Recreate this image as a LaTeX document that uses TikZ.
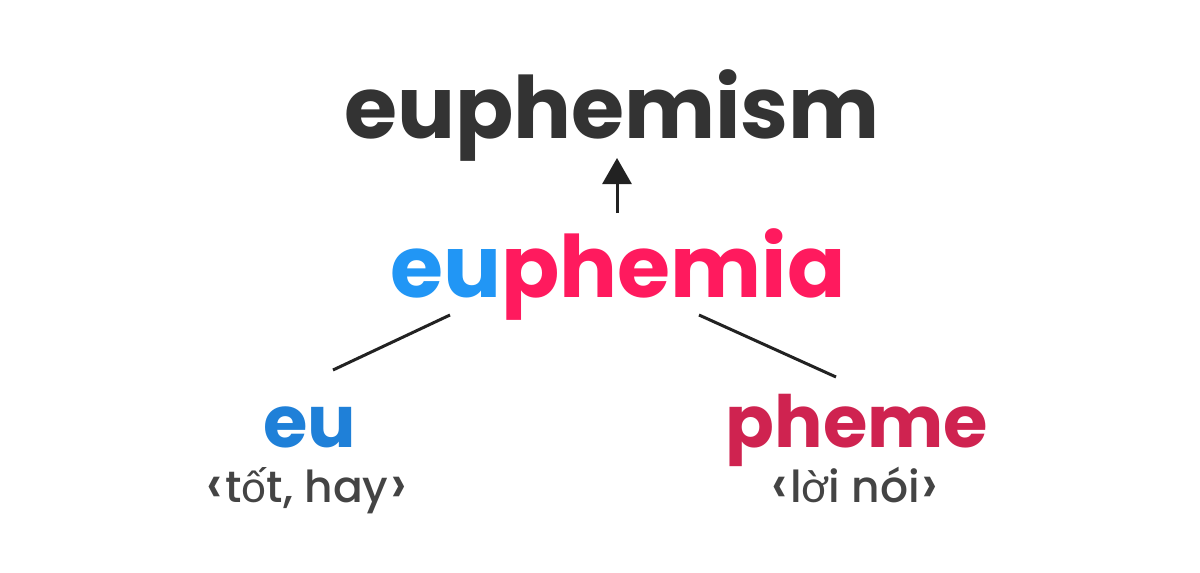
\documentclass[tikz,border=0pt]{standalone}
\usepackage{fontspec}
\setmainfont{Poppins}
\newfontfamily\medfont{Poppins Medium}
\newfontfamily\vfont{Lato}
\usetikzlibrary{arrows.meta}
\definecolor{dark}{HTML}{333333}
\definecolor{blueA}{HTML}{2196F5}
\definecolor{pinkA}{HTML}{FF1A5E}
\definecolor{blueB}{HTML}{1F80D8}
\definecolor{pinkB}{HTML}{CF2350}
\definecolor{grayT}{HTML}{444444}
\definecolor{lineC}{HTML}{222222}
\newcommand\lchev{\smash{\raisebox{-1pt}{\medfont\fontsize{56}{56}\selectfont ‹}}\kern2pt}
\newcommand\rchev{\kern2pt\smash{\raisebox{-1pt}{\medfont\fontsize{56}{56}\selectfont ›}}}
\tikzset{
  word/.style={anchor=base, inner sep=0pt, font=\bfseries},
  gloss/.style={anchor=base, inner sep=0pt, text=grayT},
  link/.style={draw=lineC, line width=3pt},
}
\begin{document}
\begin{tikzpicture}[x=1pt,y=-1pt]
\useasboundingbox[fill=white] (0,0) rectangle (1200,573);
\node[word, text=dark, font=\bfseries\fontsize{86}{86}\selectfont] (top) at (612,138) {euphemism};
\node[word, font=\bfseries\fontsize{86}{86}\selectfont] (mid) at (618,297) {\textcolor{blueA}{eu}\textcolor{pinkA}{phemia}};
\node[word, text=blueB, font=\bfseries\fontsize{72}{72}\selectfont] (eu) at (310,447) {eu};
\node[word, text=pinkB, font=\bfseries\fontsize{72}{72}\selectfont] (pheme) at (857,447) {pheme};
\node[gloss, font=\medfont\fontsize{44}{44}\selectfont] (g1) at (307,502) {\lchev t{\vfont ố}t, hay\rchev};
\node[gloss, font=\medfont\fontsize{44}{44}\selectfont] (g2) at (855,502) {\lchev l{\vfont ờ}i nói\rchev};
\coordinate (a0) at (617,213);
\coordinate (a1) at (617,158);
\coordinate (l0) at (450,315);
\coordinate (l1) at (333,370);
\coordinate (r0) at (699,315);
\coordinate (r1) at (836,377);
\draw[link, -{Triangle[width=29pt,length=26pt]}] (a0) -- (a1);
\draw[link] (l0) -- (l1);
\draw[link] (r0) -- (r1);
\end{tikzpicture}
\end{document}
